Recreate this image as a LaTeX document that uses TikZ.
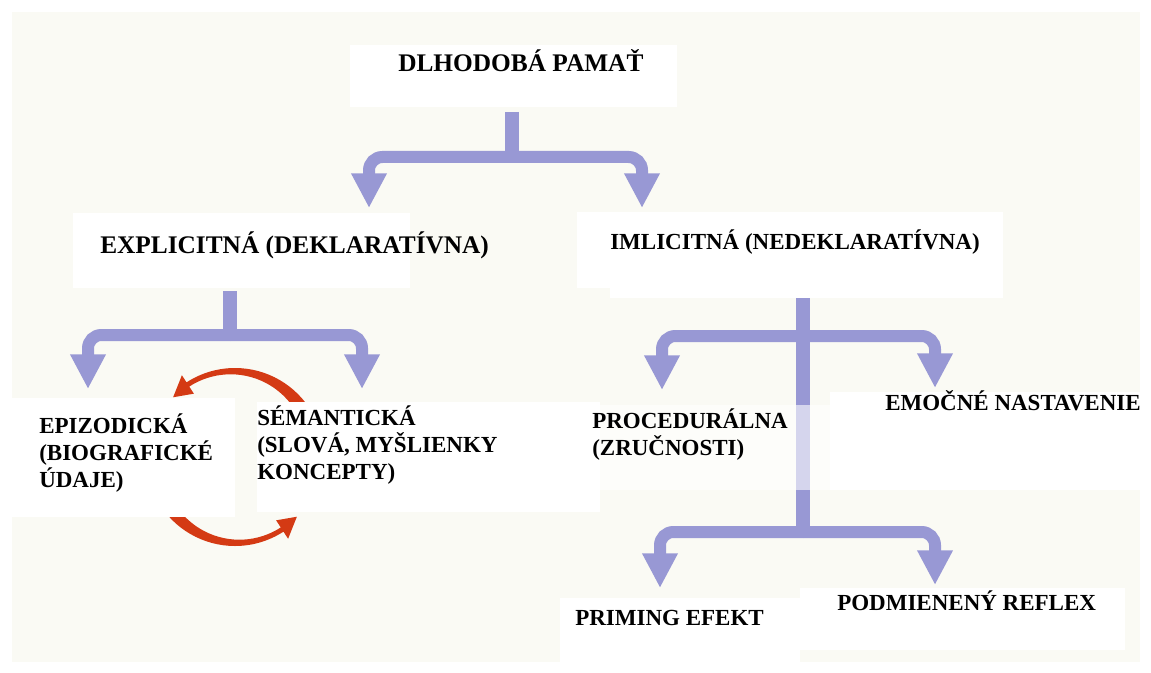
\documentclass[tikz,border=0pt]{standalone}
\usepackage{fontspec}
\setmainfont{Liberation Serif}
\usetikzlibrary{arrows.meta}
\definecolor{paper}{RGB}{250,250,244}
\definecolor{lav}{RGB}{152,152,212}
\definecolor{loopred}{RGB}{212,58,20}
% left-aligned stack of lines whose baseline is that of the first line
\newcommand{\vlines}[1]{\vtop{\halign{##\hfil\cr#1\crcr}}}
\begin{document}
\begin{tikzpicture}[x=0.75pt,y=-0.75pt,
  lbl/.style={inner sep=0pt,anchor=base west,
    font=\fontsize{17.25pt}{20.25pt}\selectfont\bfseries},
  biglbl/.style={lbl,font=\fontsize{19pt}{22pt}\selectfont\bfseries},
  stem/.style={draw=lav,line width=11pt},
  branch/.style={draw=lav,line width=9pt,rounded corners=10pt,
    -{Triangle[length=26pt,width=25pt]}},
]
% page and cream panel
\fill[white] (0,0) rectangle (1151,673);
\useasboundingbox (0,0) rectangle (1151,673);
\fill[paper] (12,12) rectangle (1140,662);

% red cycle between episodic and semantic memory
\foreach \r in {0,180}{
  \begin{scope}[shift={(235,457)},yscale=-1,rotate=\r]
    \fill[loopred] (30:89) arc[start angle=30,end angle=123,radius=89]
      -- (123:97.5) -- (136:86) -- (123:75.5) -- (123:84)
      arc[start angle=123,end angle=30,radius=76] -- cycle;
  \end{scope}
}

% white label panels
\fill[white] (350,45) rectangle (677,107);
\fill[white] (73,213) rectangle (410,288);
\fill[white] (577,212) rectangle (1003,288);
\fill[white] (610,288) rectangle (1003,298);
\fill[white] (12,398) rectangle (235,517);
\fill[white] (257,402) rectangle (600,512);
\fill[white] (830,392) rectangle (1151,490);
\fill[white] (560,598) rectangle (800,673);
\fill[white] (800,588) rectangle (1125,650);

% connector anchor points
\coordinate (ltm-out) at (512,112);
\coordinate (j1) at (512,157);
\coordinate (expl-in) at (369,208);
\coordinate (impl-in) at (642,208);
\coordinate (expl-out) at (230,291);
\coordinate (j2) at (230,335);
\coordinate (epi-in) at (88,389);
\coordinate (sem-in) at (362,389);
\coordinate (impl-out) at (803,298);
\coordinate (j3) at (803,336);
\coordinate (j4) at (803,532);
\coordinate (proc-in) at (662,390);
\coordinate (emo-in) at (935,388);
\coordinate (prim-in) at (660,588);
\coordinate (podm-in) at (935,585);

% lavender branching arrows
\draw[stem] (ltm-out) -- (j1);
\draw[branch] (j1) -| (expl-in);
\draw[branch] (j1) -| (impl-in);

\draw[stem] (expl-out) -- (j2);
\draw[branch] (j2) -| (epi-in);
\draw[branch] (j2) -| (sem-in);

\draw[stem] (impl-out) -- (j4);
\draw[branch] (j3) -| (proc-in);
\draw[branch] (j3) -| (emo-in);
\draw[branch] (j4) -| (prim-in);
\draw[branch] (j4) -| (podm-in);

% translucent panel behind the procedural label
\fill[white,opacity=0.6] (575,405) rectangle (830,490);

% labels
\node[biglbl] (ltm) at (398,72) {DLHODOBÁ PAMAŤ};
\node[biglbl] (expl) at (100,254) {EXPLICITNÁ (DEKLARATÍVNA)};
\node[lbl] (impl) at (610,250) {IMLICITNÁ (NEDEKLARATÍVNA)};
\node[lbl] (epi) at (39,433) {\vlines{EPIZODICKÁ\cr (BIOGRAFICKÉ\cr ÚDAJE)}};
\node[lbl] (sem) at (257,425) {\vlines{SÉMANTICKÁ\cr (SLOVÁ, MYŠLIENKY\cr KONCEPTY)}};
\node[lbl] (proc) at (592,428) {\vlines{PROCEDURÁLNA\cr (ZRUČNOSTI)}};
\node[lbl] (emo) at (885,410) {EMOČNÉ NASTAVENIE};
\node[lbl] (prim) at (575,625) {PRIMING EFEKT};
\node[lbl] (podm) at (837,610) {PODMIENENÝ REFLEX};
\end{tikzpicture}
\end{document}
